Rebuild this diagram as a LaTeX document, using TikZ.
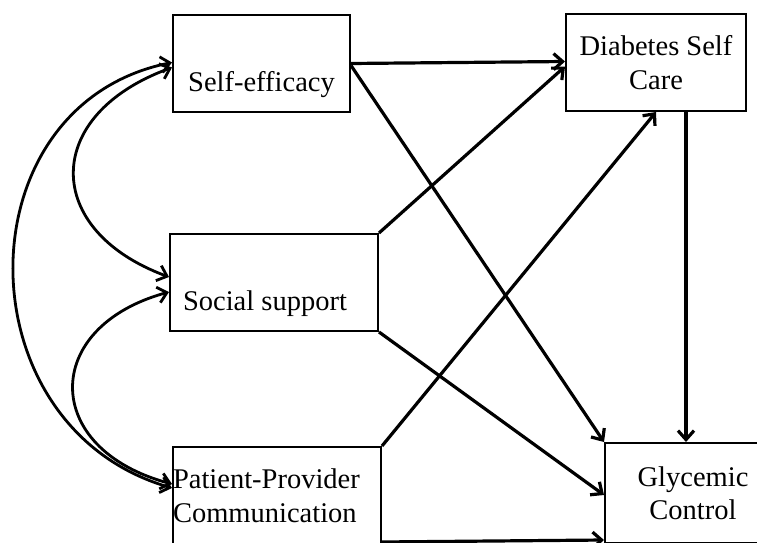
\documentclass[tikz,border=0pt]{standalone}
\usepackage{fontspec}
\setmainfont{Liberation Serif}
\usetikzlibrary{arrows.meta}
\tikzset{
  >={Straight Barb[length=9pt,width=16pt]},
  varbox/.style={draw, line width=2pt, rectangle, minimum width=#1,
    minimum height=97pt, inner sep=0pt, align=center,
    font=\fontsize{28.5}{33.5}\selectfont},
  effect/.style={->, line width=3.2pt},
  cov/.style={<->, line width=2.8pt},
}

\begin{document}
\begin{tikzpicture}[x=1pt, y=-1pt]
		\useasboundingbox (0,0) rectangle (757,543);
		\clip (0,0) rectangle (757,543);

		% variables
		\node[varbox=177, text height=55pt, text depth=0pt] (se) at (261.5,63.5) {Self-efficacy};
		\node[varbox=180] (dsc) at (656,62.5) {Diabetes Self\\Care};
		\node[varbox=208, text height=55pt, text depth=0pt] (ss) at (274,282.5) {Social support\hspace*{18pt}};
		\node[varbox=208, align=left, text width=208pt] (ppc) at (277,495.5) {Patient-Provider\\Communication};
		\node[varbox=176, minimum height=100pt] (gc) at (693,493) {Glycemic\\Control};

		% paths
		\draw[effect] (se.east) -- ([yshift=1pt]dsc.west);
		\draw[effect] ([yshift=-2pt]se.east) -- (gc.north west);
		\draw[effect] (ss.north east) -- ([yshift=-4pt]dsc.west);
		\draw[effect] (ss.south east) -- ([yshift=-2pt]gc.west);
		\draw[effect] (ppc.north east) -- (dsc.south);
		\draw[effect] ([yshift=3pt]ppc.south east) -- ([yshift=4pt]gc.south west);
		\draw[effect] ([xshift=30pt]dsc.south) -- ([xshift=30pt]dsc.south |- gc.north);

		% covariances
		\draw[cov] ([yshift=-4pt]se.west) .. controls (42,115) and (42,230) .. ([yshift=5.5pt]ss.west);
		\draw[cov] ([yshift=1pt]se.west) .. controls (-39,105) and (-39,427) .. ([yshift=7.5pt]ppc.west);
		\draw[cov] ([yshift=-9.5pt]ss.west) .. controls (41,327) and (41,449) .. ([yshift=11.5pt]ppc.west);
	\end{tikzpicture}
\end{document}
